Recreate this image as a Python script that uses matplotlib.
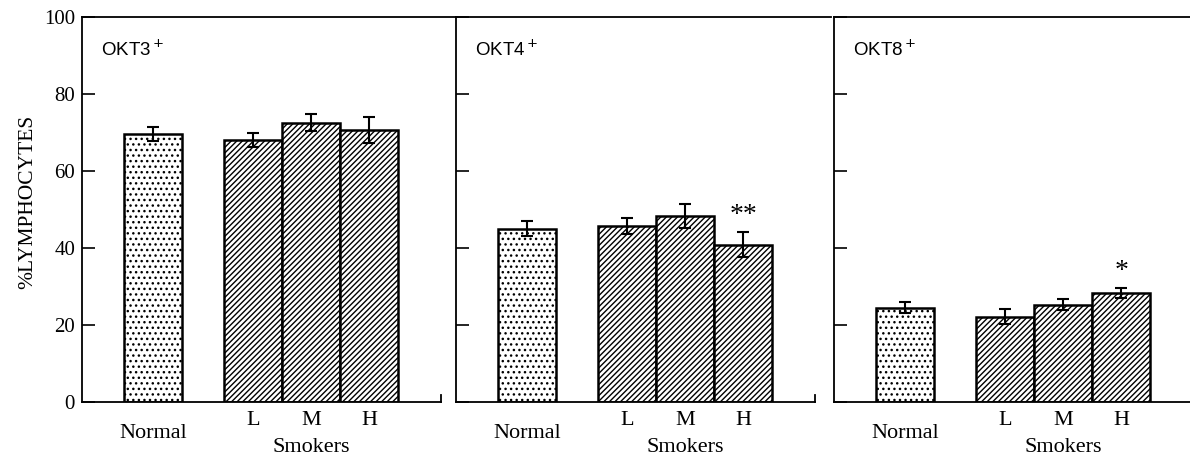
import numpy as np
import matplotlib.pyplot as plt
from matplotlib.lines import Line2D

plt.rcParams['hatch.linewidth'] = 1.0

panels = ['OKT3', 'OKT4', 'OKT8']
groups = ['Normal', 'L', 'M', 'H']
means = [
    [69.5, 68.0, 72.5, 70.7],
    [45.0, 45.8, 48.2, 40.9],
    [24.5, 22.2, 25.3, 28.3],
]
errs = [
    [1.8, 1.8, 2.2, 3.3],
    [2.0, 2.1, 3.1, 3.2],
    [1.5, 2.0, 1.5, 1.3],
]
stars = [['', '', '', ''], ['', '', '', '**'], ['', '', '', '*']]

W, H = 1190, 455
fig = plt.figure(figsize=(W / 100, H / 100), dpi=100)

serif = 'Liberation Serif'
sans = 'Liberation Sans'

y0, y1 = 402, 17
lefts = [82, 456, 834]
width_px = 375
bar_px = 58
xpos = np.array([0, 1.72, 2.72, 3.72])
xlo = -1.23
xhi = xlo + width_px / bar_px
bottom_end = xlo + 359 / bar_px

for i, ax_left in enumerate(lefts):
    ax = fig.add_axes([ax_left / W, 1 - y0 / H, width_px / W, (y0 - y1) / H])
    ax.set_xlim(xlo, xhi)
    ax.set_ylim(0, 100)
    m = means[i]
    e = errs[i]
    ax.bar(xpos[:1], m[:1], width=1.0, color='white', edgecolor='black',
           linewidth=1.8, hatch='...', zorder=2)
    ax.bar(xpos[1:], m[1:], width=1.0, color='white', edgecolor='black',
           linewidth=1.8, hatch='//////', zorder=2)
    ax.errorbar(xpos, m, yerr=e, fmt='none', ecolor='black', elinewidth=1.5,
                capsize=4, capthick=1.5, zorder=3)
    for x, v, er, s in zip(xpos, m, e, stars[i]):
        if s:
            ax.annotate(s, (x, v + er), xytext=(0, 3), textcoords='offset points',
                        ha='center', va='bottom', fontsize=20, family=serif)

    ax.spines['right'].set_visible(False)
    for side in ['left', 'top', 'bottom']:
        ax.spines[side].set_linewidth(1.3)
    ax.spines['bottom'].set_bounds(xlo, bottom_end)
    ax.add_line(Line2D([bottom_end, bottom_end], [0, 1.8], color='black', lw=1.3,
                       clip_on=False))

    ax.set_yticks([0, 20, 40, 60, 80, 100])
    ax.tick_params(axis='y', direction='in', length=9, width=1.2, pad=5)
    if i == 0:
        ax.set_yticklabels(['0', '20', '40', '60', '80', '100'], family=serif, fontsize=15)
        ax.set_ylabel('%LYMPHOCYTES', family=serif, fontsize=15.5)
        ax.yaxis.set_label_coords(-0.12, 0.52)
    else:
        ax.set_yticklabels([])

    ax.set_xticks([])
    ax.text(0.05, 0.915, panels[i] + '$^+$', transform=ax.transAxes, family=sans,
            fontsize=13.5, ha='left', va='center')

    ax.text(xpos[0], -8.1, 'Normal', ha='center', va='center', family=serif, fontsize=16)
    for x, g in zip(xpos[1:], groups[1:]):
        ax.text(x, -4.7, g, ha='center', va='center', family=serif, fontsize=16)
    ax.text(xpos[2], -11.8, 'Smokers', ha='center', va='center', family=serif, fontsize=16)

fig.savefig('out.png', dpi=100)
